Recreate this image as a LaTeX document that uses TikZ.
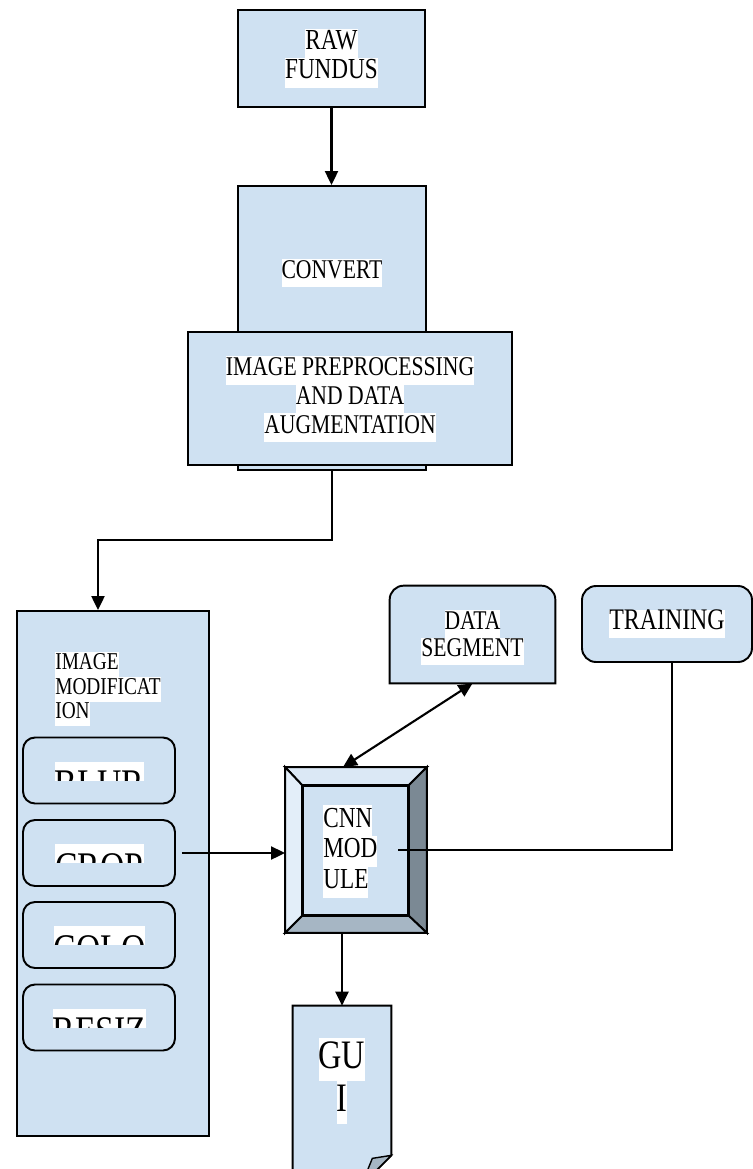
\documentclass[tikz,border=0pt]{standalone}
\usepackage{fontspec}
\setmainfont{Liberation Serif}[FakeStretch=0.8]
\usepackage{tikz}
\usetikzlibrary{positioning, calc, arrows.meta}

\definecolor{boxblue}{RGB}{207,225,242}
\definecolor{bevtop}{RGB}{219,232,245}
\definecolor{bevleft}{RGB}{227,238,249}
\definecolor{bevright}{RGB}{123,137,148}
\definecolor{bevbottom}{RGB}{166,182,196}

\newcommand{\wbox}[1]{{\setlength{\fboxsep}{0pt}\colorbox{white}{\strut #1}}}

\tikzset{
	basicbox/.style={draw=black, line width=1.1pt, fill=boxblue, inner sep=0pt}
}
\tikzset{
	roundbox/.style={basicbox, rounded corners=0.24cm}
}
\tikzset{
	wtext/.style={inner sep=0pt, align=center},
	arrowline/.style={line width=1.2pt, -{Triangle[length=0.28cm, width=0.26cm]}},
	thinline/.style={line width=0.8pt}
}

\begin{document}
\begin{tikzpicture}[x=0.02cm, y=-0.02cm]

              \clip (0,0) rectangle (753,1169);

              \node[basicbox, minimum width=3.74cm, minimum height=1.94cm] (raw) at (331.5,58.5) {};
              \node[wtext, font=\fontsize{16.5}{16.6}\selectfont] (rawtxt) at (raw.center) {\wbox{RAW}\\\wbox{FUNDUS}};

              \node[basicbox, minimum width=3.76cm, minimum height=5.68cm] (convert) at (332,328) {};
              \node[wtext, font=\fontsize{15.4}{16}\selectfont] (convtxt) at (332,273) {\wbox{CONVERT}};

              \node[basicbox, minimum width=6.48cm, minimum height=2.66cm] (prep) at (350,398.5) {};
              \node[wtext, font=\fontsize{15.4}{16.4}\selectfont] (preptxt) at (350,399) {\wbox{IMAGE PREPROCESSING}\\\wbox{AND DATA}\\\wbox{AUGMENTATION}};

              % image modification column
              \node[basicbox, minimum width=3.84cm, minimum height=10.5cm] (mod) at (113,873.5) {};
              \node[wtext, align=left, anchor=north west, font=\fontsize{13.75}{14}\selectfont] (modtxt) at (55,652) {\wbox{IMAGE}\\\wbox{MODIFICAT}\\\wbox{ION}};

              \foreach \nm/\yy/\tx in {blur/770.5/BLUR, crop/853/CROP, colo/935/COLO, resiz/1017.5/RESIZ} {
                \node[roundbox, minimum width=3.04cm, minimum height=1.32cm] (\nm) at (99,\yy) {};
                \begin{scope}
                  \clip (39,\yy-9) rectangle (159,\yy+9.5);
                  \node[wtext, anchor=north, font=\fontsize{24}{30}\selectfont] (\nm txt) at (99.5,\yy-9) {\wbox{\tx}};
                \end{scope}
              }

              % cnn module, bevelled
              \node[basicbox, minimum width=2.80cm, minimum height=3.28cm] (cnn) at (356,850) {};
              \node[basicbox, minimum width=2.10cm, minimum height=2.58cm] (cnnin) at (355.5,850.5) {};
              \filldraw[fill=bevtop, draw=black, line width=1.1pt] (cnn.north west) -- (cnn.north east) -- (cnnin.north east) -- (cnnin.north west) -- cycle;
              \filldraw[fill=bevleft, draw=black, line width=1.1pt] (cnn.north west) -- (cnnin.north west) -- (cnnin.south west) -- (cnn.south west) -- cycle;
              \filldraw[fill=bevright, draw=black, line width=1.1pt] (cnn.north east) -- (cnnin.north east) -- (cnnin.south east) -- (cnn.south east) -- cycle;
              \filldraw[fill=bevbottom, draw=black, line width=1.1pt] (cnn.south west) -- (cnnin.south west) -- (cnnin.south east) -- (cnn.south east) -- cycle;
              \node[wtext, align=left, anchor=north west, font=\fontsize{16.5}{17.6}\selectfont] (cnntxt) at (323,805) {\wbox{CNN}\\\wbox{MOD}\\\wbox{ULE}};

              % data segment, top corners rounded
              \node[inner sep=0pt, minimum width=3.30cm, minimum height=1.94cm] (seg) at (472.5,634.5) {};
              \filldraw[fill=boxblue, draw=black, line width=1.1pt] (seg.south west) -- ([yshift=-0.28cm]seg.north west) arc[start angle=180, end angle=90, radius=0.28cm] -- ([xshift=-0.28cm]seg.north east) arc[start angle=90, end angle=0, radius=0.28cm] -- (seg.south east) -- cycle;
              \node[wtext, font=\fontsize{15.4}{15.8}\selectfont] (segtxt) at (472.5,637.5) {\wbox{DATA}\\\wbox{SEGMENT}};

              \node[basicbox, rounded corners=0.28cm, minimum width=3.40cm, minimum height=1.52cm] (train) at (667,624) {};
              \node[wtext, font=\fontsize{17}{16}\selectfont] (traintxt) at (train.center) {\wbox{TRAINING}};

              % gui document
              \node[inner sep=0pt, minimum width=1.96cm, minimum height=3.58cm] (gui) at (342,1095.5) {};
              \filldraw[fill=boxblue, draw=black, line width=1.1pt] (gui.north west) -- (gui.north east) -- ([yshift=0.6cm]gui.south east) -- ([xshift=-0.6cm]gui.south east) -- (gui.south west) -- cycle;
              \filldraw[fill=bevbottom, draw=black, line width=0.8pt] ([yshift=0.6cm]gui.south east) -- ([xshift=-0.6cm]gui.south east) -- ([xshift=-0.38cm, yshift=0.54cm]gui.south east) -- cycle;
              \node[wtext, anchor=north, font=\fontsize{23}{24.5}\selectfont] (guitxt) at ([yshift=-0.64cm]gui.north) {\wbox{GU}\\\wbox{I}};

              \coordinate (bend) at (98,540);
              \coordinate (cnnout) at (398,850);

              \draw[arrowline] (raw.south) -- (raw.south |- convert.north);
              \draw[arrowline] (convert.south) |- (bend) -- (bend |- mod.north);
              \draw[arrowline] ([xshift=0.12cm]crop.east) -- (crop.east -| cnn.west);
              \draw[line width=1.2pt, {Triangle[length=0.28cm, width=0.26cm]}-{Triangle[length=0.28cm, width=0.26cm]}] (seg.south) -- ([xshift=-0.26cm]cnn.north);
              \draw[thinline] (cnnout) -| ([xshift=0.1cm]train.south);
              \draw[arrowline] (gui.north |- cnn.south) -- (gui.north);
            \end{tikzpicture}
\end{document}
